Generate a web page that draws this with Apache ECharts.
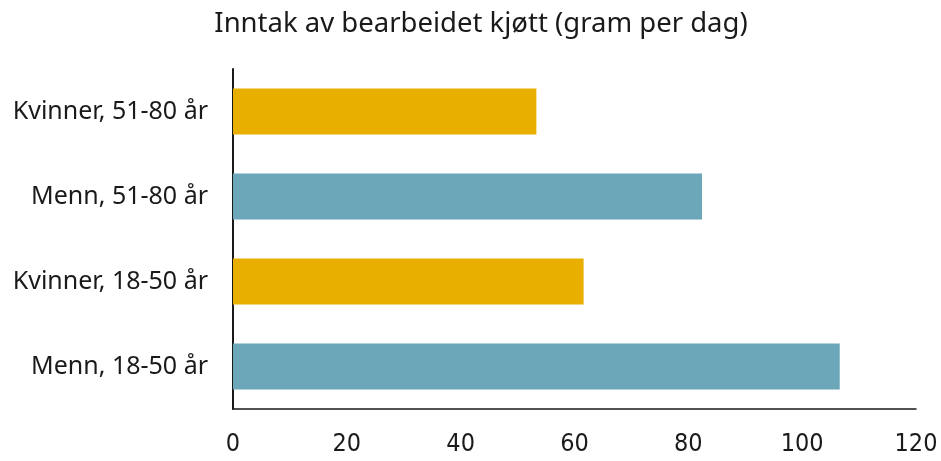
<!DOCTYPE html>
<html><head><meta charset="utf-8">
<script src="https://cdn.jsdelivr.net/npm/echarts@6/dist/echarts.min.js"></script>
<style>html,body{margin:0;padding:0;background:#fff}#c{width:941px;height:461px}</style>
</head><body><div id="c"></div>
<script>
const categories = ["Menn, 18-50 år", "Kvinner, 18-50 år", "Menn, 51-80 år", "Kvinner, 51-80 år"];
const values = [106.6, 61.6, 82.4, 53.3];
const barColors = ["#6CA6B9", "#E8AF00", "#6CA6B9", "#E8AF00"];
const xTicks = [0, 20, 40, 60, 80, 100, 120];
const title = "Inntak av bearbeidet kjøtt (gram per dag)";

const chart = echarts.init(document.getElementById('c'), null, {renderer: 'canvas'});
chart.setOption({
  animation: false,
  title: {text: title, left: 476, top: 5, textAlign: 'center',
    textStyle: {fontFamily: 'Noto Sans', fontWeight: 'normal', fontSize: 27.5, color: '#1a1a1a'}},
  grid: {left: 233, right: 25, top: 69, bottom: 52, containLabel: false},
  xAxis: {type: 'value', min: xTicks[0], max: xTicks[xTicks.length-1], interval: 20,
    splitLine: {show: false},
    axisLine: {show: true, lineStyle: {color: '#1a1a1a', width: 1.5}},
    axisTick: {show: false},
    axisLabel: {margin: 23, fontFamily: '"DejaVu Sans Condensed", Roboto, sans-serif', fontSize: 25, color: '#1a1a1a'}},
  yAxis: {type: 'category', data: categories,
    axisLine: {show: true, lineStyle: {color: '#1a1a1a', width: 2}},
    axisTick: {show: false},
    axisLabel: {margin: 25, fontFamily: 'Noto Sans', fontSize: 25, color: '#1a1a1a'}},
  series: [{type: 'bar', barWidth: 46,
    data: values.map((v, i) => ({value: v, itemStyle: {color: barColors[i]}}))}]
});
</script></body></html>
